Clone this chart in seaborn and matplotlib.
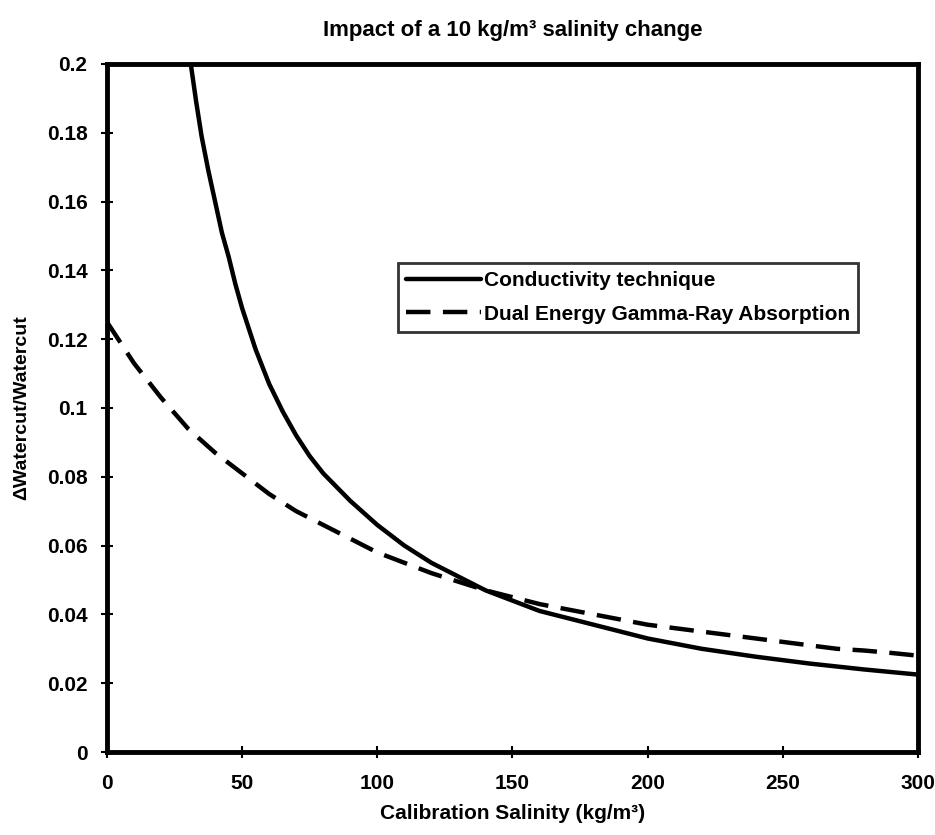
import numpy as np
import pandas as pd
import matplotlib
matplotlib.use("Agg")
import matplotlib.pyplot as plt
import seaborn as sns

# Conductivity technique
cond_x = [31, 33, 35, 37.5, 40, 42.5, 45, 47.5, 50, 55, 60, 65, 70, 75, 80, 90, 100,
          110, 120, 130, 140, 150, 160, 170, 180, 190, 200, 220, 240, 260, 280, 300]
cond_y = [0.200, 0.189, 0.179, 0.169, 0.160, 0.151, 0.144, 0.136, 0.129, 0.117, 0.107,
          0.099, 0.092, 0.086, 0.081, 0.073, 0.066, 0.060, 0.055, 0.051, 0.047, 0.044,
          0.041, 0.039, 0.037, 0.035, 0.033, 0.030, 0.0277, 0.0257, 0.024, 0.0225]

# Dual Energy Gamma-Ray Absorption
dual_x = [0, 10, 20, 30, 40, 50, 60, 70, 80, 90, 100, 110, 120, 130, 140, 150, 160,
          170, 180, 190, 200, 210, 220, 230, 240, 250, 260, 270, 280, 290, 300]
dual_y = [0.125, 0.113, 0.103, 0.094, 0.087, 0.081, 0.075, 0.070, 0.066, 0.062, 0.058,
          0.055, 0.052, 0.0495, 0.047, 0.045, 0.043, 0.0415, 0.040, 0.0385, 0.037, 0.036,
          0.035, 0.034, 0.033, 0.032, 0.031, 0.030, 0.0295, 0.0288, 0.028]

x_ticks = [0, 50, 100, 150, 200, 250, 300]
y_ticks = [0, 0.02, 0.04, 0.06, 0.08, 0.1, 0.12, 0.14, 0.16, 0.18, 0.2]
y_tick_labels = ["0", "0.02", "0.04", "0.06", "0.08", "0.1", "0.12", "0.14", "0.16", "0.18", "0.2"]

sns.set_style("white")
plt.rcParams['font.family'] = ['Liberation Sans', 'DejaVu Sans']
plt.rcParams['font.weight'] = 'bold'
plt.rcParams['text.color'] = 'black'
plt.rcParams['axes.labelcolor'] = 'black'
plt.rcParams['xtick.color'] = 'black'
plt.rcParams['ytick.color'] = 'black'

fig = plt.figure(figsize=(9.35, 8.35), dpi=100)
ax = fig.add_axes([0.1144, 0.0994, 0.8674, 0.824])

df_cond = pd.DataFrame({'x': cond_x, 'y': cond_y})
df_dual = pd.DataFrame({'x': dual_x, 'y': dual_y})

sns.lineplot(data=df_cond, x='x', y='y', ax=ax, color='black', linewidth=3.2,
             label='Conductivity technique')
sns.lineplot(data=df_dual, x='x', y='y', ax=ax, color='black', linewidth=3.2,
             label='Dual Energy Gamma-Ray Absorption')
ax.lines[1].set_dashes([5.5, 2.8])

ax.set_xlim(0, 300)
ax.set_ylim(0, 0.2)
ax.set_xticks(x_ticks)
ax.set_xticklabels([str(v) for v in x_ticks])
ax.set_yticks(y_ticks)
ax.set_yticklabels(y_tick_labels)
ax.tick_params(axis='both', direction='inout', length=8, width=1.5, labelsize=15,
               bottom=True, left=True)
ax.tick_params(axis='x', pad=12)
ax.tick_params(axis='y', pad=10)
for lab in ax.get_xticklabels() + ax.get_yticklabels():
    lab.set_fontweight('bold')

for sp in ax.spines.values():
    sp.set_visible(True)
    sp.set_color('black')
    sp.set_linewidth(3.5)

ax.set_xlabel('Calibration Salinity (kg/m³)', fontsize=15, fontweight='bold', labelpad=8)
ax.set_ylabel('\u0394Watercut/Watercut', fontsize=14, fontweight='bold', labelpad=12)
ax.set_title('Impact of a 10 kg/m³ salinity change', fontsize=16, fontweight='bold', pad=20)

leg = ax.legend(loc='upper left', bbox_to_anchor=(0.359, 0.711), borderaxespad=0,
                fontsize=15, frameon=True, fancybox=False, handlelength=3.6,
                handletextpad=0.1, borderpad=0.4, labelspacing=0.7)
leg.get_frame().set_edgecolor('black')
leg.get_frame().set_linewidth(2)
for t in leg.get_texts():
    t.set_fontweight('bold')

fig.savefig('out.png', dpi=100, facecolor='white')
